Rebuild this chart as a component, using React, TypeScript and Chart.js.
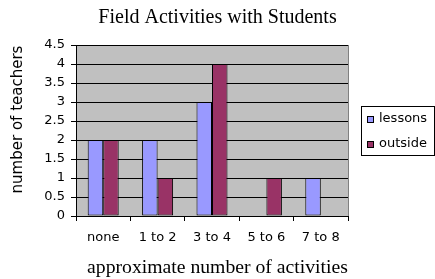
import React, { useEffect, useRef } from "react";
import { Chart, registerables } from "chart.js";

Chart.register(...registerables);

const categories = ["none", "1 to 2", "3 to 4", "5 to 6", "7 to 8"];
const lessonsValues = [2, 2, 3, 0, 1];
const outsideValues = [2, 1, 4, 1, 0];
const seriesLabels = ["lessons", "outside"];
const seriesColors = ["#9999ff", "#993366"];
const chartTitle = "Field Activities with Students";
const xTitle = "approximate number of activities";
const yTitle = "number of teachers";
const yMax = 4.5;
const yStep = 0.5;

const SANS = "'DejaVu Sans', sans-serif";
const SERIF = "'Liberation Serif', serif";

const decorPlugin = {
  id: "decor",
  beforeDraw(chart: any) {
    const { ctx, chartArea: a } = chart;
    ctx.save();
    ctx.fillStyle = "#c0c0c0";
    ctx.fillRect(a.left, a.top, a.right - a.left, a.bottom - a.top);
    ctx.restore();
  },
  afterDraw(chart: any) {
    const { ctx, chartArea: a } = chart;
    ctx.save();
    ctx.strokeStyle = "#808080";
    ctx.lineWidth = 1;
    ctx.beginPath();
    ctx.moveTo(Math.round(a.right) + 0.5, a.top);
    ctx.lineTo(Math.round(a.right) + 0.5, a.bottom);
    ctx.stroke();

    // chart title
    ctx.fillStyle = "#000";
    ctx.font = `20px ${SERIF}`;
    ctx.textAlign = "center";
    ctx.textBaseline = "middle";
    ctx.fillText(chartTitle, chart.width / 2, 18);

    // y title
    ctx.font = `15px ${SANS}`;
    ctx.translate(a.left - 57.5, (a.top + a.bottom) / 2 - 11);
    ctx.rotate(-Math.PI / 2);
    ctx.fillText(yTitle, 0, 0);
    ctx.restore();

    // x title
    ctx.save();
    ctx.fillStyle = "#000";
    ctx.font = `19.7px ${SERIF}`;
    ctx.textAlign = "center";
    ctx.textBaseline = "middle";
    ctx.fillText(xTitle, chart.width / 2, a.bottom + 52);
    ctx.restore();

    // legend
    const ds = chart.data.datasets;
    const boxL = Math.round(a.right) + 13;
    const boxR = chart.width - 1;
    const boxH = 49;
    const cy = (a.top + a.bottom) / 2;
    const boxT = Math.round(cy - boxH / 2);
    ctx.save();
    ctx.strokeStyle = "#000";
    ctx.lineWidth = 1;
    ctx.strokeRect(boxL + 0.5, boxT + 0.5, boxR - boxL, boxH);
    ctx.font = `13px ${SANS}`;
    ctx.textAlign = "left";
    ctx.textBaseline = "middle";
    ds.forEach((d: any, i: number) => {
      const ry = boxT + 13 + i * 25;
      ctx.fillStyle = d.backgroundColor;
      ctx.fillRect(boxL + 6, ry - 3, 7, 7);
      ctx.strokeStyle = "#000";
      ctx.strokeRect(boxL + 6.5, ry - 2.5, 6, 6);
      ctx.fillStyle = "#000";
      ctx.fillText(d.label, boxL + 18, ry);
    });
    ctx.restore();
  },
};

export default function App() {
  const ref = useRef<HTMLCanvasElement | null>(null);
  useEffect(() => {
    if (!ref.current) return;
    const chart = new Chart(ref.current, {
      type: "bar",
      data: {
        labels: categories,
        datasets: [
          {
            label: seriesLabels[0],
            data: lessonsValues,
            backgroundColor: seriesColors[0],
            borderColor: "#000",
            borderWidth: (c: any) => (c.raw === 0 ? 0 : 1),
            borderSkipped: false,
            categoryPercentage: 0.57,
            barPercentage: 1,
          },
          {
            label: seriesLabels[1],
            data: outsideValues,
            backgroundColor: seriesColors[1],
            borderColor: "#000",
            borderWidth: (c: any) => (c.raw === 0 ? 0 : 1),
            borderSkipped: false,
            categoryPercentage: 0.57,
            barPercentage: 1,
          },
        ],
      },
      options: {
        animation: false,
        responsive: false,
        devicePixelRatio: 1,
        layout: { padding: { left: 0, right: 87, top: 45, bottom: 0 } },
        plugins: {
          legend: { display: false },
          tooltip: { enabled: false },
          title: { display: false },
        },
        scales: {
          x: {
            grid: {
              display: true,
              drawOnChartArea: false,
              drawTicks: true,
              tickLength: 5,
              color: "#000",
              offset: true,
            },
            border: { display: true, color: "#000" },
            ticks: {
              color: "#000",
              font: { family: SANS, size: 13 },
              padding: 9,
              maxRotation: 0,
            },
            afterFit: (s: any) => {
              s.height = 63;
            },
          },
          y: {
            min: 0,
            max: yMax,
            grid: { color: "#000", tickLength: 5, drawTicks: true },
            border: { display: true, color: "#000" },
            ticks: {
              stepSize: yStep,
              color: "#000",
              font: { family: SANS, size: 13 },
              padding: 6,
              callback: (v: any) => String(v),
            },
            afterFit: (s: any) => {
              s.width = 76;
            },
          },
        },
      },
      plugins: [decorPlugin],
    } as any);
    return () => chart.destroy();
  }, []);
  return (
    <div style={{ position: "absolute", left: 0, top: 0, width: 435, height: 279 }}>
      <canvas ref={ref} width={435} height={279} />
    </div>
  );
}
